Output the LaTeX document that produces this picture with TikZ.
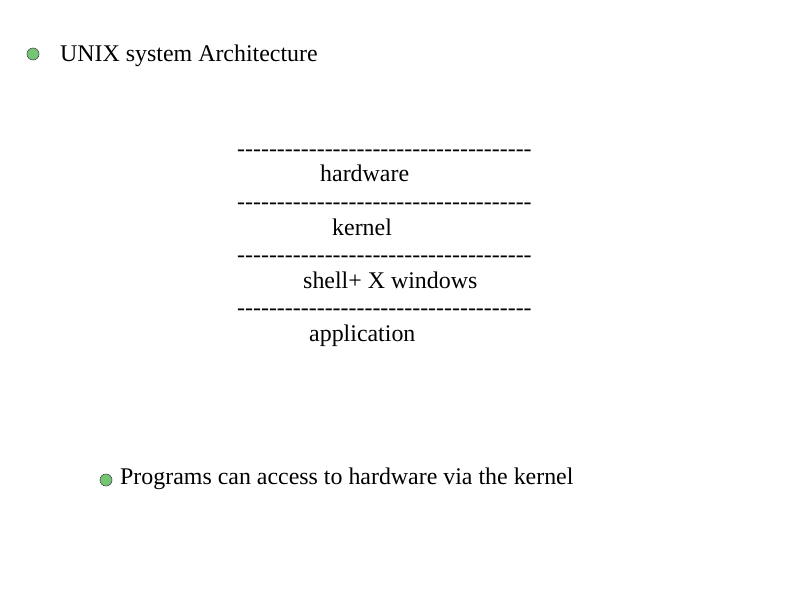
\documentclass[tikz,border=0pt]{standalone}
\usepackage{fontspec}
\setmainfont[Ligatures=NoCommon]{Liberation Serif}
\newcommand{\dashrow}{\foreach \i in {1,...,37}{-\kern0pt}}
\begin{document}
\begin{tikzpicture}[x=1pt,y=-1pt,
  txt/.style={anchor=base west,inner sep=0pt,font=\fontsize{23.9}{28}\selectfont},
  bul/.style={circle,draw=black!70,fill=green!60!black!55!white,line width=0.6pt,minimum size=12pt,inner sep=0pt}]
\useasboundingbox (0,0) rectangle (794,595);
\node[bul] (b1) at (33,54) {};
\node[txt] (t1) at (60,61) {UNIX system Architecture};
\node[txt] (d1) at (237,156) {\dashrow};
\node[txt] (l1) at (320,181) {hardware};
\node[txt] (d2) at (237,209) {\dashrow};
\node[txt] (l2) at (332,235) {kernel};
\node[txt] (d3) at (237,262) {\dashrow};
\node[txt] (l3) at (303,288) {shell+ X windows};
\node[txt] (d4) at (237,315) {\dashrow};
\node[txt] (l4) at (309,341) {application};
\node[bul] (b2) at (106,480) {};
\node[txt] (t2) at (120,484) {Programs can access to hardware via the kernel};
\end{tikzpicture}
\end{document}
